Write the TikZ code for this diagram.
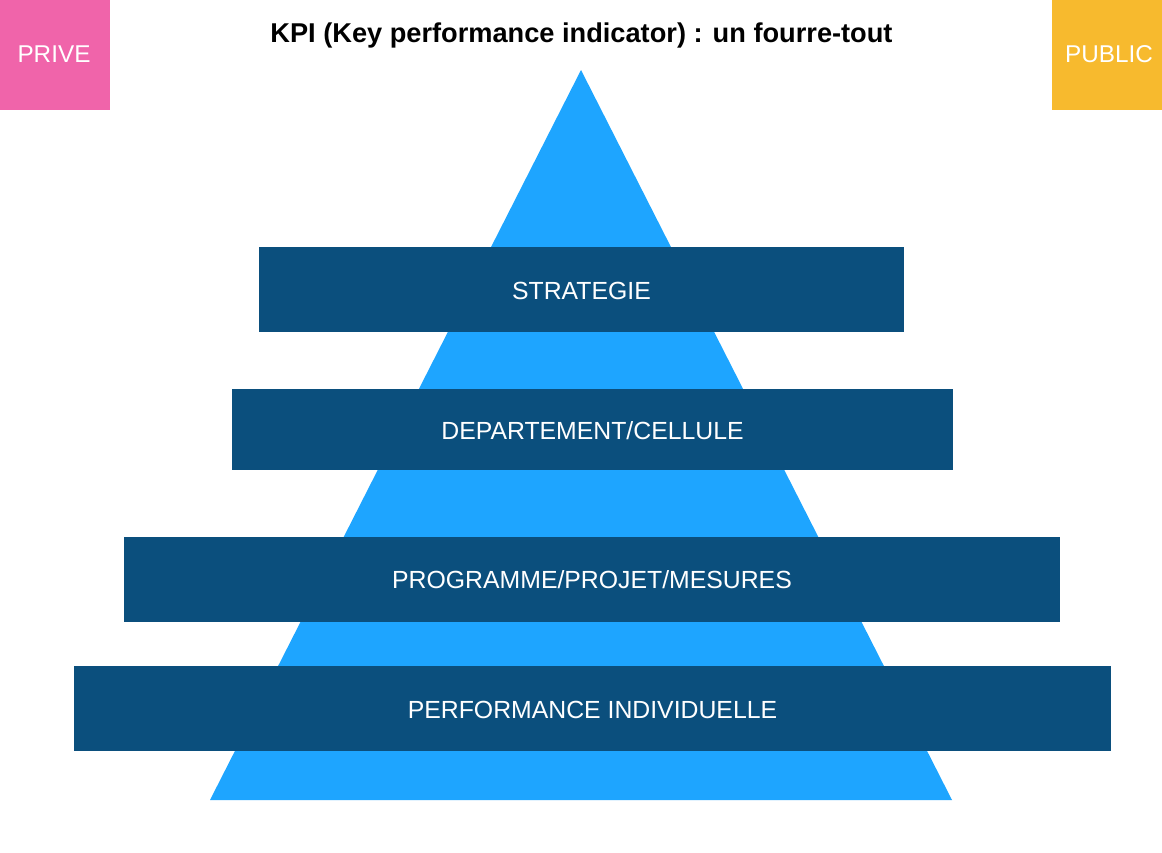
\documentclass[tikz,border=0pt]{standalone}
\usepackage{fontspec}
\setmainfont{Liberation Sans}
\definecolor{pinkbox}{HTML}{F064AA}
\definecolor{yellowbox}{HTML}{F7BA2E}
\definecolor{lightblue}{HTML}{1EA5FF}
\definecolor{darkblue}{HTML}{0B4F7D}
\tikzset{
  bar/.style={fill=darkblue, draw=none},
  bartext/.style={text=white, font=\fontsize{24.8}{28}\selectfont, inner sep=0pt},
  cornertext/.style={text=white, font=\fontsize{24.3}{27}\selectfont, inner sep=0pt}
}
\begin{document}
\begin{tikzpicture}[x=1pt,y=-1pt]
\useasboundingbox (0,0) rectangle (1162,852);
\fill[white] (0,0) rectangle (1162,852);
% corner boxes
\fill[pinkbox] (0,0) rectangle (110,110);
\node[cornertext] (prive) at (54,54) {PRIVE};
\fill[yellowbox] (1052,0) rectangle (1162,110);
\node[cornertext] (public) at (1109,54) {PUBLIC};
% title
\node[inner sep=0pt, font=\fontsize{27.2}{30}\bfseries\selectfont] (title) at (581.5,35) {KPI (Key performance indicator) : un fourre-tout};
% pyramid
\fill[lightblue] (581,70) -- (952,800) -- (210,800) -- cycle;
% bars
\fill[bar] (259,247) rectangle (904,332);
\node[bartext] (strat) at (581.5,290.5) {STRATEGIE};
\fill[bar] (232,389) rectangle (953,470);
\node[bartext] (dept) at (592.5,430.5) {DEPARTEMENT/CELLULE};
\fill[bar] (124,537) rectangle (1060,622);
\node[bartext] (prog) at (592,580) {PROGRAMME/PROJET/MESURES};
\fill[bar] (74,666) rectangle (1111,751);
\node[bartext] (perf) at (592.5,709.5) {PERFORMANCE INDIVIDUELLE};
\end{tikzpicture}
\end{document}
